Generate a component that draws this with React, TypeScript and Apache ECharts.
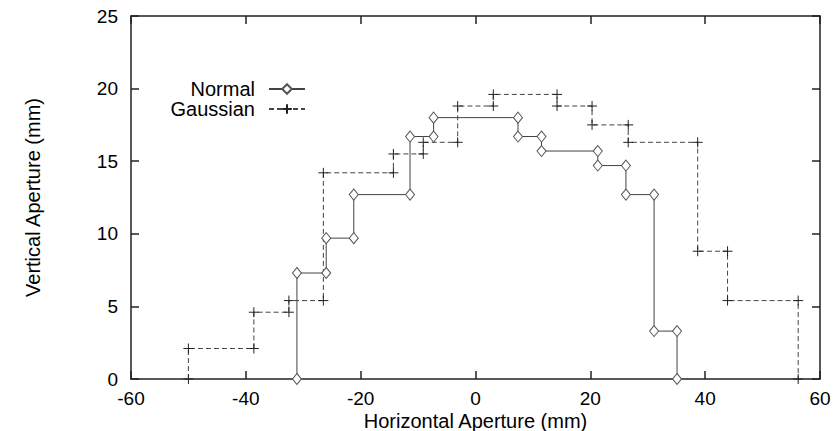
import React, { useEffect, useRef } from "react";
import * as echarts from "echarts";

const normalX = [-31.1, -31.1, -26.0, -26.0, -21.2, -21.2, -11.4, -11.4, -7.3, -7.3, 7.4, 7.4, 11.5, 11.5, 21.3, 21.3, 26.2, 26.2, 31.1, 31.1, 35.1, 35.1];
const normalY = [0, 7.3, 7.3, 9.7, 9.7, 12.7, 12.7, 16.7, 16.7, 18.0, 18.0, 16.7, 16.7, 15.7, 15.7, 14.7, 14.7, 12.7, 12.7, 3.3, 3.3, 0];

const gaussX = [-50.0, -50.0, -38.6, -38.6, -32.5, -32.5, -26.5, -26.5, -14.3, -14.3, -9.1, -9.1, -3.1, -3.1, 3.1, 3.1, 14.2, 14.2, 20.3, 20.3, 26.6, 26.6, 38.7, 38.7, 43.9, 43.9, 56.2, 56.2];
const gaussY = [0, 2.1, 2.1, 4.6, 4.6, 5.4, 5.4, 14.2, 14.2, 15.5, 15.5, 16.3, 16.3, 18.8, 18.8, 19.6, 19.6, 18.8, 18.8, 17.5, 17.5, 16.3, 16.3, 8.8, 8.8, 5.4, 5.4, 0];

const seriesNames = ["Normal", "Gaussian"];
const xTitle = "Horizontal Aperture (mm)";
const yTitle = "Vertical Aperture (mm)";

const FONT = "'Liberation Sans', Arial, Helvetica, sans-serif";

export default function App() {
  const ref = useRef<HTMLDivElement>(null);
  useEffect(() => {
    if (!ref.current) return;
    const chart = echarts.init(ref.current, undefined, { renderer: "svg" });
    const axisLine = { show: true, onZero: false, lineStyle: { color: "#222", width: 1.5 } };
    const tick = { show: true, inside: true, length: 8, lineStyle: { color: "#222", width: 1.5 } };
    const label = { color: "#000", fontSize: 19, fontFamily: FONT };
    chart.setOption({
      animation: false,
      backgroundColor: "#fff",
      grid: { left: 131, top: 16, width: 689, height: 363, containLabel: false, outerBoundsMode: "none" },
      legend: {
        orient: "vertical",
        align: "right",
        right: 531,
        top: 79,
        padding: 0,
        itemGap: 0,
        itemWidth: 36,
        itemHeight: 12,
        textStyle: { color: "#000", fontSize: 20, fontFamily: FONT, padding: [0, 9, 0, 0] },
        data: seriesNames,
      },
      xAxis: [
        {
          type: "value",
          min: -60,
          max: 60,
          interval: 20,
          position: "bottom",
          axisLine,
          axisTick: tick,
          splitLine: { show: false },
          axisLabel: { ...label, margin: 10 },
          name: xTitle,
          nameLocation: "middle",
          nameGap: 32,
          nameMoveOverlap: false,
          nameTextStyle: { color: "#000", fontSize: 20, fontFamily: FONT },
        },
        {
          type: "value",
          min: -60,
          max: 60,
          interval: 20,
          position: "top",
          axisLine,
          axisTick: tick,
          splitLine: { show: false },
          axisLabel: { show: false },
        },
      ],
      yAxis: [
        {
          type: "value",
          min: 0,
          max: 25,
          interval: 5,
          position: "left",
          axisLine,
          axisTick: tick,
          splitLine: { show: false },
          axisLabel: { ...label, margin: 13 },
          name: yTitle,
          nameLocation: "middle",
          nameGap: 88,
          nameTextStyle: { color: "#000", fontSize: 20, fontFamily: FONT },
        },
        {
          type: "value",
          min: 0,
          max: 25,
          interval: 5,
          position: "right",
          axisLine,
          axisTick: tick,
          splitLine: { show: false },
          axisLabel: { show: false },
        },
      ],
      series: [
        {
          name: seriesNames[0],
          type: "line",
          xAxisIndex: 0,
          yAxisIndex: 0,
          data: normalX.map((x, i) => [x, normalY[i]]),
          symbol: "diamond",
          symbolSize: [9, 11],
          showAllSymbol: true,
          lineStyle: { color: "#444", width: 1, type: "solid" },
          itemStyle: { color: "#fff", borderColor: "#555", borderWidth: 1 },
          clip: false,
          z: 3,
        },
        {
          name: seriesNames[1],
          type: "line",
          xAxisIndex: 0,
          yAxisIndex: 0,
          data: gaussX.map((x, i) => [x, gaussY[i]]),
          symbol: "path://M5,0L5,10M0,5L10,5",
          symbolSize: 10,
          showAllSymbol: true,
          lineStyle: { color: "#444", width: 1, type: [5, 3] },
          itemStyle: { color: "none", borderColor: "#222", borderWidth: 1 },
          clip: false,
          z: 2,
        },
      ],
    });
    return () => chart.dispose();
  }, []);
  return (
    <div
      ref={ref}
      style={{ position: "fixed", left: 0, top: 0, width: 837, height: 431 }}
    />
  );
}
